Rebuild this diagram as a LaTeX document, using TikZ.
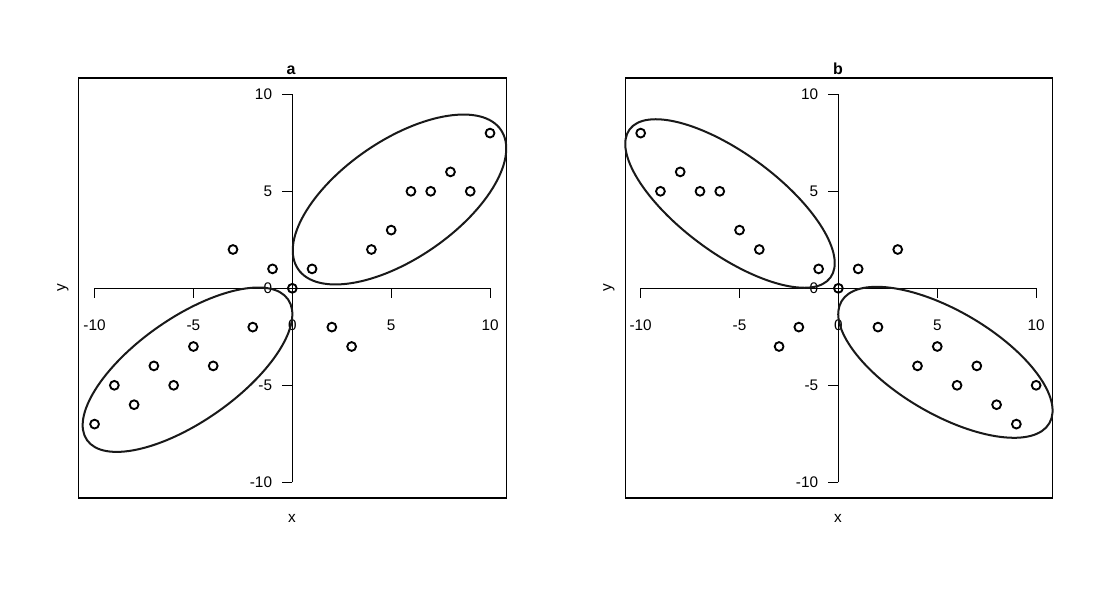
\documentclass[tikz,border=0pt]{standalone}
\usepackage{fontspec}
\setmainfont{Liberation Sans}
\begin{document}
\begin{tikzpicture}[x=0.75pt,y=-0.75pt,
  frame/.style={line width=0.8pt},
  axisline/.style={line width=0.8pt},
  ell/.style={line width=1.5pt, black!90},
  ptc/.style={line width=1.4pt},
  lab/.style={font=\fontsize{11.5}{13}\selectfont, inner sep=0pt},
  ttl/.style={font=\fontsize{12}{14}\selectfont\bfseries, inner sep=0pt, anchor=base}]
\useasboundingbox[fill=white] (0,0) rectangle (1093,596);

% ---------- panel a ----------
\draw[frame] (78.5,78) rectangle (506.5,498);
\node[ttl] (ttla) at (291,74.8) {a};
\node[lab] (xlaba) at (292,518) {x};
\node[lab, rotate=90] (ylaba) at (63,288) {y};
\begin{scope}[shift={(292.3,288.3)}, x=14.83pt, y=14.55pt]
  \draw[axisline] (-10,0) -- (10,0);
  \draw[axisline] (0,-10) -- (0,10);
  \foreach \t in {-10,-5,0,5,10}{
    \draw[axisline] (\t,0) -- ++(0,-7pt);
    \node[lab] (xta\t) at (\t,0) [yshift=-27.5pt] {\t};
    \draw[axisline] (0,\t) -- ++(-7.5pt,0);
    \node[lab, anchor=east] (yta\t) at (0,\t) [xshift=-15pt] {\t};
  }
  \foreach \px/\py in {10/8,8/6,9/5,7/5,6/5,5/3,4/2,1/1,0/0,-1/1,-3/2,-2/-2,2/-2,3/-3,-5/-3,-4/-4,-7/-4,-6/-5,-9/-5,-8/-6,-10/-7}
    \draw[ptc] (\px,\py) circle[radius=3.3pt];
\end{scope}
\draw[ell, rotate around={34.5:(399.5,199.5)}] (399.5,199.5) ellipse [x radius=123, y radius=59];
\draw[ell, rotate around={35:(187.5,369.7)}] (187.5,369.7) ellipse [x radius=122.7, y radius=51.8];

% ---------- panel b ----------
\draw[frame] (625.5,78) rectangle (1052.5,498);
\node[ttl] (ttlb) at (838,74.8) {b};
\node[lab] (xlabb) at (838,518) {x};
\node[lab, rotate=90] (ylabb) at (609,288) {y};
\begin{scope}[shift={(838.4,288.3)}, x=14.83pt, y=14.55pt]
  \draw[axisline] (-10,0) -- (10,0);
  \draw[axisline] (0,-10) -- (0,10);
  \foreach \t in {-10,-5,0,5,10}{
    \draw[axisline] (\t,0) -- ++(0,-7pt);
    \node[lab] (xtb\t) at (\t,0) [yshift=-27.5pt] {\t};
    \draw[axisline] (0,\t) -- ++(-7.5pt,0);
    \node[lab, anchor=east] (ytb\t) at (0,\t) [xshift=-15pt] {\t};
  }
  \foreach \px/\py in {-10/8,-8/6,-9/5,-7/5,-6/5,-5/3,-4/2,-1/1,1/1,3/2,0/0,-2/-2,-3/-3,2/-2,5/-3,4/-4,7/-4,6/-5,10/-5,8/-6,9/-7}
    \draw[ptc] (\px,\py) circle[radius=3.3pt];
\end{scope}
\draw[ell, rotate around={-36.4:(730,203.5)}] (730,203.5) ellipse [x radius=124.8, y radius=49.9];
\draw[ell, rotate around={-30.4:(945.4,362.3)}] (945.4,362.3) ellipse [x radius=120.5, y radius=51.6];
\end{tikzpicture}
\end{document}
